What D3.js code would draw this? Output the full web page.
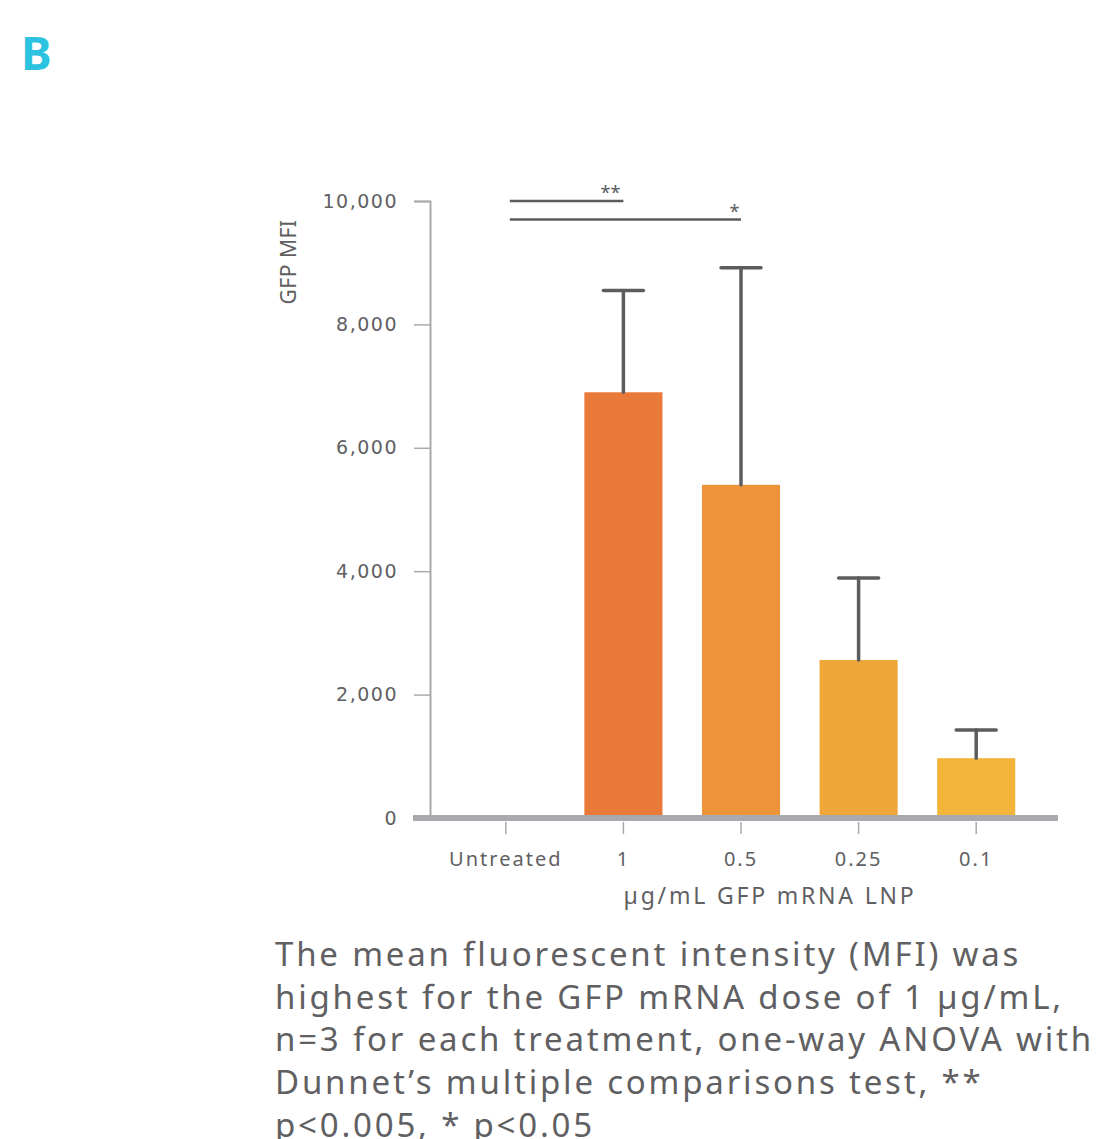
<!DOCTYPE html>
<html>
<head>
<meta charset="utf-8">
<script src="https://cdn.jsdelivr.net/npm/d3@7"></script>
<style>
  body { margin: 0; background: #fff; }
  svg { display: block; }
</style>
</head>
<body>
<div id="chart"></div>
<script>
const categories = ["Untreated", "1", "0.5", "0.25", "0.1"];
const meanMFI = [0, 6900, 5400, 2560, 970];
const errorMFI = [0, 1650, 3520, 1330, 455];
const barColors = ["#e97a3a", "#e97a3a", "#ed933a", "#eea738", "#f2b53a"];
const yTicks = [0, 2000, 4000, 6000, 8000, 10000];
const sigFrom = ["Untreated", "Untreated"];
const sigTo = ["1", "0.5"];
const sigLevel = [10000, 9700];
const sigLabel = ["**", "*"];
const captionLines = [
  "The mean fluorescent intensity (MFI) was",
  "highest for the GFP mRNA dose of 1 µg/mL,",
  "n=3 for each treatment, one-way ANOVA with",
  "Dunnet’s multiple comparisons test, **",
  "p<0.005, * p<0.05"
];

const width = 1109, height = 1139;
const textColor = "#606062";
const axisGrey = "#a9aaad";
const font = "'Noto Sans', 'Open Sans', sans-serif";
const wideFont = "'DejaVu Sans', sans-serif";

const svg = d3.select("#chart").append("svg")
  .attr("width", width)
  .attr("height", height);

// panel letter
svg.append("text")
  .attr("x", 21).attr("y", 70)
  .attr("font-family", font)
  .attr("font-weight", "bold")
  .attr("font-size", 46)
  .attr("fill", "#2bc3e0")
  .text("B");

const yScale = d3.scaleLinear().domain([0, 10000]).range([818, 201]);
const xScale = d3.scaleBand()
  .domain(categories)
  .range([447, 1035])
  .paddingInner(0.336)
  .paddingOuter(0.168);

// y axis
const yAxis = svg.append("g")
  .attr("transform", "translate(430,0)")
  .call(d3.axisLeft(yScale).tickValues(yTicks).tickFormat(d3.format(",")).tickSize(16).tickPadding(16));
yAxis.select(".domain").attr("stroke", axisGrey).attr("stroke-width", 2);
yAxis.selectAll(".tick line").attr("stroke", axisGrey).attr("stroke-width", 1.5);
yAxis.selectAll(".tick text")
  .attr("font-family", wideFont)
  .attr("font-size", 19)
  .attr("letter-spacing", 1.5)
  .attr("fill", textColor);
yAxis.selectAll(".tick").filter(d => d === 0).select("line").remove();

svg.append("text")
  .attr("transform", "translate(296,262) rotate(-90)")
  .attr("text-anchor", "middle")
  .attr("font-family", font)
  .attr("font-size", 21)
  .attr("letter-spacing", 0.5)
  .attr("fill", textColor)
  .text("GFP MFI");

// bars
svg.selectAll("rect.bar")
  .data(categories)
  .enter().append("rect")
  .attr("class", "bar")
  .attr("x", d => xScale(d))
  .attr("width", xScale.bandwidth())
  .attr("y", (d, i) => yScale(meanMFI[i]))
  .attr("height", (d, i) => yScale(0) - yScale(meanMFI[i]))
  .attr("fill", (d, i) => barColors[i]);

// error bars
const errGroup = svg.append("g")
  .attr("stroke", "#5b5c5e")
  .attr("stroke-width", 3.5)
  .attr("stroke-linecap", "round");
categories.forEach((c, i) => {
  if (errorMFI[i] === 0) return;
  const cx = xScale(c) + xScale.bandwidth() / 2;
  const top = yScale(meanMFI[i] + errorMFI[i]);
  errGroup.append("line")
    .attr("x1", cx).attr("x2", cx)
    .attr("y1", yScale(meanMFI[i])).attr("y2", top);
  errGroup.append("line")
    .attr("x1", cx - 20).attr("x2", cx + 20)
    .attr("y1", top).attr("y2", top);
});

// x axis baseline + ticks
const xAxis = svg.append("g")
  .attr("transform", "translate(0,822)")
  .call(d3.axisBottom(xScale).tickSize(12).tickPadding(18).tickSizeOuter(0));
xAxis.select(".domain").remove();
xAxis.selectAll(".tick line").attr("stroke", axisGrey).attr("stroke-width", 1.5);
xAxis.selectAll(".tick text")
  .attr("font-family", font)
  .attr("font-size", 20)
  .attr("letter-spacing", 2)
  .attr("fill", textColor);

svg.append("line")
  .attr("x1", 413).attr("x2", 1058)
  .attr("y1", yScale(0)).attr("y2", yScale(0))
  .attr("stroke", axisGrey)
  .attr("stroke-width", 6);

svg.append("text")
  .attr("x", 770).attr("y", 904)
  .attr("text-anchor", "middle")
  .attr("font-family", font)
  .attr("font-size", 23)
  .attr("letter-spacing", 2.8)
  .attr("fill", textColor)
  .text("µg/mL GFP mRNA LNP");

// significance brackets
sigFrom.forEach((f, i) => {
  const x1 = xScale(f) + xScale.bandwidth() / 2 + 4;
  const x2 = xScale(sigTo[i]) + xScale.bandwidth() / 2;
  const y = yScale(sigLevel[i]);
  svg.append("line")
    .attr("x1", x1).attr("x2", x2)
    .attr("y1", y).attr("y2", y)
    .attr("stroke", "#5b5c5e")
    .attr("stroke-width", 2.5);
  svg.append("text")
    .attr("x", x2 - 6.5 * sigLabel[i].length).attr("y", y - 2)
    .attr("text-anchor", "middle")
    .attr("font-family", font)
    .attr("font-size", 18)
    .attr("fill", "#5b5c5e")
    .text(sigLabel[i]);
});

// caption
svg.append("g").selectAll("text")
  .data(captionLines)
  .enter().append("text")
  .attr("x", 275)
  .attr("y", (d, i) => 966 + i * 42.7)
  .attr("font-family", font)
  .attr("font-size", 33)
  .attr("letter-spacing", 2.8)
  .attr("fill", textColor)
  .text(d => d);
</script>
</body>
</html>
